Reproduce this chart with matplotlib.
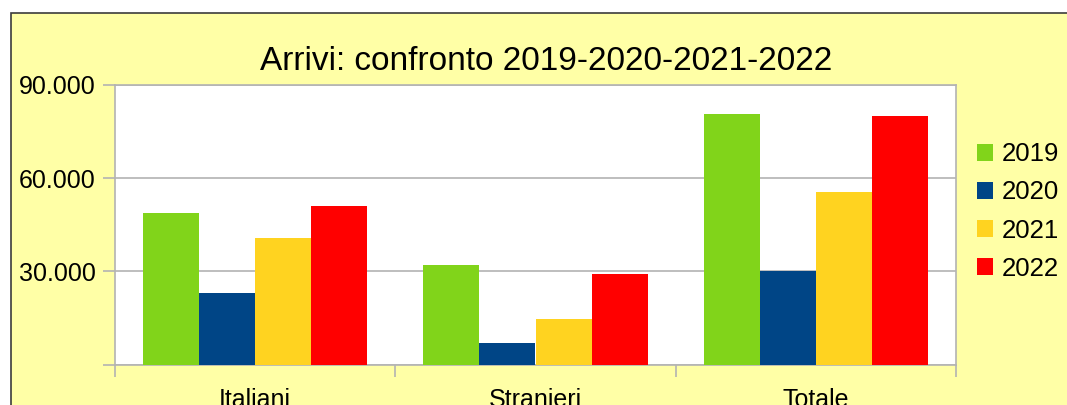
import matplotlib
matplotlib.use("Agg")
import matplotlib.pyplot as plt
import numpy as np
from matplotlib.patches import Rectangle
from matplotlib.ticker import FuncFormatter, FixedLocator

plt.rcParams['font.family'] = ['Liberation Sans', 'DejaVu Sans']

# data
categories = ["Italiani", "Stranieri", "Totale"]
years = ["2019", "2020", "2021", "2022"]
v2019 = [48800, 31900, 80700]
v2020 = [22900, 6900, 30000]
v2021 = [40800, 14600, 55400]
v2022 = [51000, 29000, 80000]
colors = ["#81d41a", "#004586", "#ffd320", "#ff0000"]

W, H = 1067, 405
fig = plt.figure(figsize=(W / 100, H / 100), dpi=100)
fig.patch.set_facecolor("white")

# chart background frame (cropped on right and bottom)
frame = Rectangle((11 / W, -0.1), 1.2, (H - 13) / H + 0.1, transform=fig.transFigure,
                  facecolor="#ffffa6", edgecolor="#3c3c3c", linewidth=1.2, zorder=-1)
fig.patches.append(frame)

ax = fig.add_axes([115 / W, (H - 364.5) / H, (956 - 115) / W, (364.5 - 85) / H])
ax.set_zorder(2)
ax.set_facecolor("white")

x = np.arange(len(categories))
width = 0.2
series = [v2019, v2020, v2021, v2022]
for i, (vals, lab, col) in enumerate(zip(series, years, colors)):
    ax.bar(x + (i - 1.5) * width, vals, width, color=col, label=lab, zorder=3)

ax.set_xlim(-0.5, 2.5)
ax.set_ylim(0, 90000)
ax.set_yticks([0, 30000, 60000, 90000])
ax.yaxis.set_major_formatter(FuncFormatter(
    lambda v, p: "" if v == 0 else f"{int(v):,}".replace(",", ".")))
ax.yaxis.grid(True, color="#b3b3b3", linewidth=1.2, zorder=0)
ax.set_axisbelow(True)

ax.set_xticks(x)
ax.set_xticklabels(categories)
ax.xaxis.set_minor_locator(FixedLocator([-0.5, 0.5, 1.5, 2.5]))
ax.tick_params(axis="x", which="major", length=0, pad=17, labelsize=18)
ax.tick_params(axis="x", which="minor", length=8.5, color="#b3b3b3", width=1.2)
ax.tick_params(axis="y", length=8.5, color="#b3b3b3", width=1.2, pad=5.5, labelsize=18)

for s in ax.spines.values():
    s.set_color("#b3b3b3")
    s.set_linewidth(1.2)

fig.text(546 / W, 1 - 62 / H, "Arrivi: confronto 2019-2020-2021-2022",
         ha="center", va="center", fontsize=24)

leg = fig.legend(loc="center left", bbox_to_anchor=(977 / W, 1 - 211.5 / H),
                 frameon=False, fontsize=18.5, handlelength=0.62, handleheight=0.62,
                 handletextpad=0.36, labelspacing=0.55, borderpad=0, borderaxespad=0)
for h in leg.legend_handles:
    h.set_edgecolor("none")

fig.savefig("out.png", dpi=100)
